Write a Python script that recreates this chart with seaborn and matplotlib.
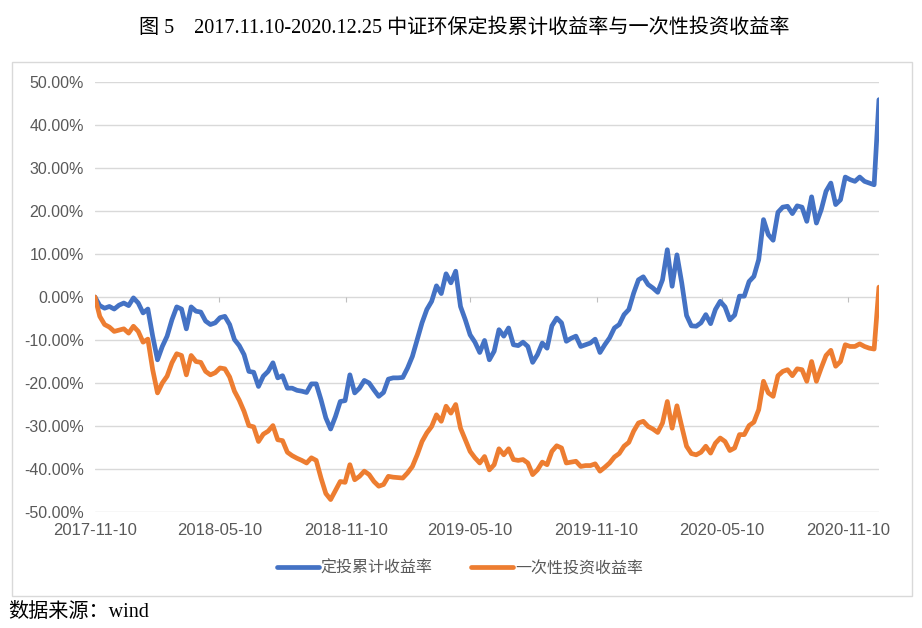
import matplotlib
matplotlib.use("Agg")
import matplotlib.pyplot as plt
from matplotlib.patches import Rectangle
import numpy as np
import pandas as pd
import seaborn as sns

# weekly values (%), 2017-11-10 .. 2020-12-25
dates = pd.date_range("2017-11-10", "2020-12-25", freq="7D")

dca_return = [
    0.0, -2.0, -2.6, -2.2, -2.8, -1.9, -1.4, -2.0, -0.2, -1.4,
    -3.7, -2.8, -9.1, -14.6, -11.5, -9.1, -5.3, -2.3, -2.8, -7.4,
    -2.3, -3.3, -3.5, -5.6, -6.4, -6.0, -4.8, -4.5, -6.4, -9.9,
    -11.3, -13.4, -17.3, -17.5, -20.8, -18.4, -17.3, -15.3, -18.8, -18.3,
    -21.2, -21.2, -21.7, -21.9, -22.2, -20.2, -20.2, -23.9, -28.1, -30.7,
    -27.8, -24.3, -24.1, -18.1, -22.3, -21.2, -19.4, -20.0, -21.6, -23.1,
    -22.2, -19.1, -18.8, -18.8, -18.7, -16.5, -13.8, -9.9, -6.0, -2.9,
    -1.0, 2.6, 0.8, 5.4, 3.3, 6.0, -2.2, -5.3, -8.8, -10.5,
    -12.9, -10.1, -14.6, -12.6, -7.6, -9.1, -7.2, -11.1, -11.3, -10.5,
    -11.5, -15.2, -13.4, -10.7, -11.9, -6.7, -4.9, -6.0, -10.3, -9.6,
    -9.1, -11.5, -11.1, -10.7, -9.8, -12.9, -11.1, -9.5, -7.2, -6.4,
    -4.1, -2.9, 0.9, 4.0, 4.7, 2.9, 2.1, 1.1, 4.0, 11.0,
    2.5, 9.8, 3.3, -4.3, -6.7, -6.8, -6.0, -4.1, -6.2, -2.9,
    -1.0, -2.3, -5.3, -4.2, 0.2, 0.2, 3.6, 4.8, 8.7, 18.0,
    14.5, 13.2, 19.7, 20.9, 21.1, 19.4, 21.2, 20.9, 17.6, 23.3,
    17.2, 20.3, 24.6, 26.5, 21.5, 22.6, 27.9, 27.3, 26.9, 27.9,
    26.9, 26.5, 26.1, 45.9,
]

lump_return = [
    0.0, -4.5, -6.4, -7.0, -8.0, -7.7, -7.4, -8.4, -6.8, -8.0,
    -10.5, -9.8, -16.9, -22.3, -20.0, -18.4, -15.3, -13.2, -13.6, -18.1,
    -13.6, -15.0, -15.2, -17.3, -18.1, -17.6, -16.5, -16.7, -18.6, -21.9,
    -24.0, -26.6, -29.9, -30.2, -33.6, -31.9, -31.2, -29.9, -33.2, -33.4,
    -36.1, -36.9, -37.5, -38.0, -38.6, -37.4, -38.0, -42.1, -45.7, -47.1,
    -45.0, -42.9, -43.1, -39.0, -42.5, -41.7, -40.5, -41.3, -42.9, -44.0,
    -43.6, -41.7, -41.9, -42.0, -42.1, -40.9, -39.4, -36.7, -33.6, -31.6,
    -30.1, -27.4, -28.9, -25.4, -27.0, -25.0, -30.5, -33.2, -35.9, -37.4,
    -38.6, -37.1, -40.2, -39.0, -35.3, -36.7, -35.3, -37.8, -38.0, -37.8,
    -38.6, -41.3, -40.2, -38.4, -39.0, -35.9, -34.6, -35.1, -38.6, -38.4,
    -38.2, -39.4, -39.2, -39.2, -38.8, -40.5, -39.6, -38.6, -37.2, -36.4,
    -34.7, -33.8, -31.2, -29.3, -28.9, -30.1, -30.7, -31.5, -29.3, -24.3,
    -30.5, -25.3, -30.1, -34.7, -36.4, -36.7, -36.1, -34.7, -36.3, -34.0,
    -32.8, -33.6, -35.7, -35.1, -32.0, -32.0, -29.9, -29.1, -26.2, -19.6,
    -22.3, -23.1, -18.3, -17.3, -16.9, -18.3, -16.7, -16.9, -19.6, -15.0,
    -19.6, -16.5, -13.6, -12.4, -16.1, -15.0, -11.1, -11.5, -11.5, -10.9,
    -11.5, -11.9, -12.1, 2.3,
]

series_names = ["定投累计收益率", "一次性投资收益率"]
tick_dates = pd.to_datetime(["2017-11-10", "2018-05-10", "2018-11-10", "2019-05-10",
                             "2019-11-10", "2020-05-10", "2020-11-10"])
y_ticks = list(range(-50, 51, 10))

df = pd.concat([
    pd.DataFrame({"date": dates, "value": dca_return, "series": series_names[0]}),
    pd.DataFrame({"date": dates, "value": lump_return, "series": series_names[1]}),
])

sns.set_theme(style="white")
plt.rcParams["font.family"] = ["Liberation Sans", "Noto Sans CJK SC"]
plt.rcParams["axes.unicode_minus"] = False

fig = plt.figure(figsize=(9.22, 6.28), dpi=100)
ax = fig.add_axes([0.103, 0.1847, 0.8503, 0.6847])

palette = {series_names[0]: "#4472C4", series_names[1]: "#ED7D31"}
sns.lineplot(data=df, x="date", y="value", hue="series", hue_order=series_names,
             palette=palette, linewidth=3.4, legend=False, ax=ax, sort=False)
for ln in ax.get_lines():
    ln.set_solid_joinstyle("round")

ax.set_xlim(dates[0], dates[-1])
ax.set_ylim(-50, 50)
ax.set_yticks(y_ticks)
ax.set_yticklabels([f"{v:.2f}%" for v in y_ticks])
ax.set_xticks(tick_dates)
ax.set_xticklabels([d.strftime("%Y-%m-%d") for d in tick_dates])
ax.tick_params(axis="both", length=0, labelcolor="#595959")
ax.tick_params(axis="y", pad=8, labelsize=11.5)
ax.tick_params(axis="x", pad=8, labelsize=12)
ax.set_xlabel("")
ax.set_ylabel("")
ax.grid(axis="y", color="#D9D9D9", linewidth=1)
ax.grid(axis="x", visible=False)
for s in ax.spines.values():
    s.set_visible(False)
ax.set_axisbelow(True)

# small tick marks on the zero line
ax.vlines(tick_dates, -1.2, 0, color="#BFBFBF", linewidth=0.8, zorder=1)

handles = ax.get_lines()[:2]
leg = fig.legend(handles, series_names, loc="center", bbox_to_anchor=(0.499, 0.095),
                 ncol=2, frameon=False, handlelength=2.6, handletextpad=0.15,
                 columnspacing=2.4, prop={"family": ["Noto Sans CJK SC"], "size": 11.5})
for t in leg.get_texts():
    t.set_color("#595959")

fig.text(0.504, 0.955, "图 5    2017.11.10-2020.12.25 中证环保定投累计收益率与一次性投资收益率",
         ha="center", va="center", fontsize=14.5,
         family=["Liberation Serif", "Noto Sans CJK SC"], color="black")
fig.text(0.009, 0.025, "数据来源：wind", ha="left", va="center", fontsize=14.5,
         family=["Liberation Serif", "Noto Sans CJK SC"], color="black")

fig.patches.append(Rectangle((0.013, 0.051), 0.976, 0.850, transform=fig.transFigure,
                             fill=False, edgecolor="#D9D9D9", linewidth=1))

fig.savefig("out.png", dpi=100)
